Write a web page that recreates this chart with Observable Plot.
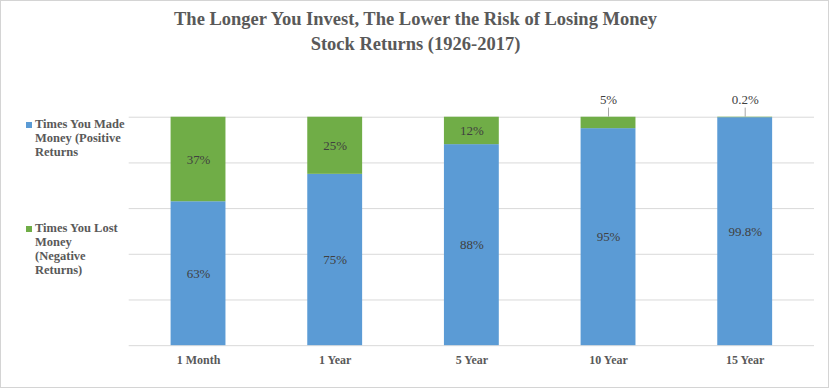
<!DOCTYPE html>
<html>
<head>
<meta charset="utf-8">
<script src="https://cdn.jsdelivr.net/npm/d3@7"></script>
<script src="https://cdn.jsdelivr.net/npm/@observablehq/plot@0.6"></script>
<style>
  body { margin: 0; background: #fff; }
  #wrap { position: relative; width: 829px; height: 388px; box-sizing: border-box; border: 1px solid #d4d4d4; background: #fff; overflow: hidden; font-family: "Liberation Serif", serif; }
  #title { position: absolute; left: 0; width: 829px; top: 6px; text-align: center; font-weight: bold; font-size: 18.5px; line-height: 25px; color: #595959; }
  #legend { position: absolute; left: 25px; top: 116px; width: 100px; font-size: 12.5px; font-weight: bold; color: #595959; line-height: 14px; }
  .item { position: relative; padding-left: 9px; white-space: nowrap; }
  .sw { position: absolute; left: 0; top: 5px; width: 6px; height: 6px; }
  #chart { position: absolute; left: 0; top: 0; }
</style>
</head>
<body>
<div id="wrap">
  <div id="chart"></div>
  <div id="title">The Longer You Invest, The Lower the Risk of Losing Money<br>Stock Returns (1926-2017)</div>
  <div id="legend"></div>
</div>
<script>
const categories = ["1 Month", "1 Year", "5 Year", "10 Year", "15 Year"];
const positive = [63, 75, 88, 95, 99.8];
const negative = [37, 25, 12, 5, 0.2];
const positiveLabels = ["63%", "75%", "88%", "95%", "99.8%"];
const negativeLabels = ["37%", "25%", "12%", "5%", "0.2%"];
const seriesNames = ["Times You Made Money (Positive Returns", "Times You Lost Money (Negative Returns)"];
const legendLines = [["Times You Made", "Money (Positive", "Returns"], ["Times You Lost", "Money", "(Negative", "Returns)"]];
const seriesColors = ["#5b9bd5", "#70ad47"];
const yTicks = [0, 20, 40, 60, 80, 100];

const rows = [];
categories.forEach((c, i) => {
  rows.push({cat: c, series: seriesNames[0], value: positive[i], label: positiveLabels[i], inside: true});
  rows.push({cat: c, series: seriesNames[1], value: negative[i], label: negativeLabels[i], inside: negative[i] >= 10});
});
const outside = categories.map((c, i) => ({cat: c, label: negativeLabels[i], value: negative[i]})).filter(d => d.value < 10);

const chart = Plot.plot({
  width: 829, height: 387,
  marginLeft: 128, marginRight: 14, marginTop: 116, marginBottom: 42,
  style: {fontFamily: "'Liberation Serif', serif", background: "transparent"},
  x: {domain: categories, paddingInner: 0.6, paddingOuter: 0.3, label: null},
  y: {domain: [0, 100], label: null, axis: null},
  color: {domain: seriesNames, range: seriesColors},
  marks: [
    Plot.ruleY(yTicks, {stroke: "#d9d9d9", strokeWidth: 1}),
    Plot.barY(rows, Plot.stackY({x: "cat", y: "value", fill: "series", order: seriesNames})),
    Plot.text(rows.filter(d => d.inside), Plot.stackY({x: "cat", y: "value", z: "series", order: seriesNames, text: "label", fill: "#404040", fontSize: 13})),
    Plot.ruleX(outside, {x: "cat", y1: 100, y2: 104, stroke: "#a6a6a6"}),
    Plot.text(outside, {x: "cat", y: 100, dy: -17, text: "label", fill: "#404040", fontSize: 13}),
    Plot.axisX({tickSize: 0, tickPadding: 10, fontSize: 12, fontWeight: "bold", fill: "#595959", label: null}),
  ]
});
document.getElementById("chart").appendChild(chart);

const legend = document.getElementById("legend");
seriesNames.forEach((n, i) => {
  const it = document.createElement("div");
  it.className = "item";
  it.style.marginBottom = i === 0 ? "62px" : "0";
  it.innerHTML = `<span class="sw" style="background:${seriesColors[i]}"></span>` + legendLines[i].join("<br>");
  legend.appendChild(it);
});
</script>
</body>
</html>
